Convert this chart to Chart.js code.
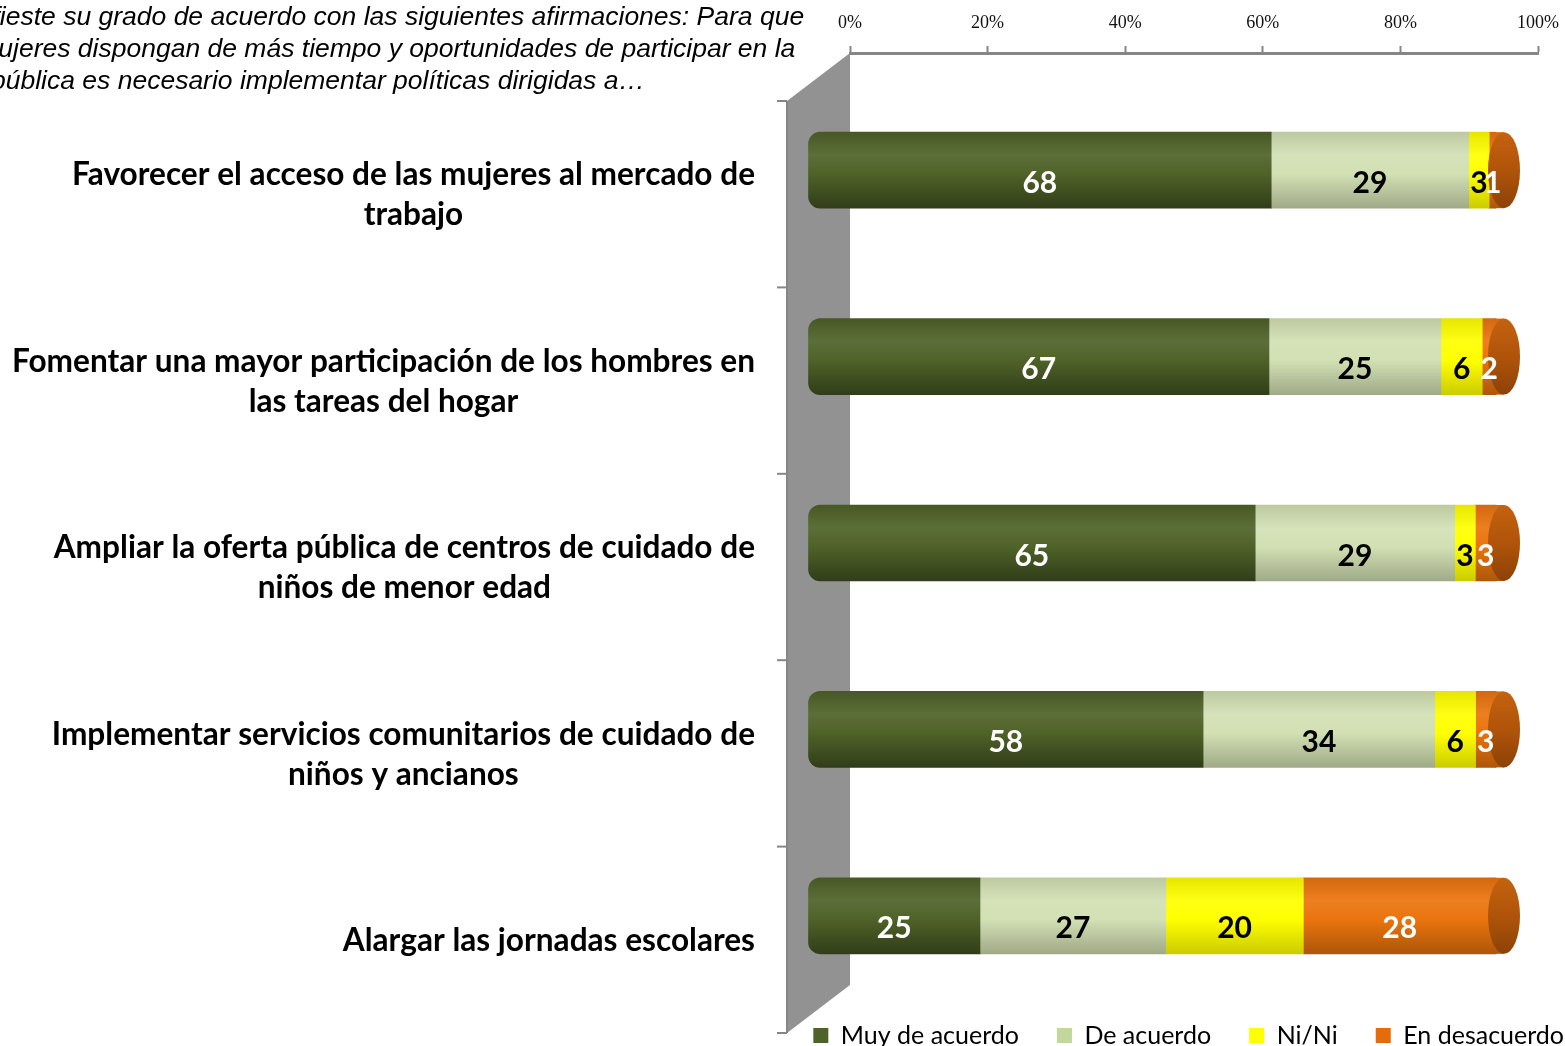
<!DOCTYPE html>
<html>
<head>
<meta charset="utf-8">
<script src="https://cdn.jsdelivr.net/npm/chart.js@4.4.1/dist/chart.umd.min.js"></script>
<style>
html,body{margin:0;padding:0;background:#fff;overflow:hidden;}
#wrap{position:relative;width:1565px;height:1046px;overflow:hidden;}
#title{position:absolute;left:-65px;top:0;font:italic 26.5px "Liberation Sans",Arial,sans-serif;line-height:32px;white-space:pre;color:#000;}
</style>
</head>
<body>
<div id="wrap">
<canvas id="chart" width="1565" height="1046"></canvas>
<div id="title">Manifieste su grado de acuerdo con las siguientes afirmaciones: Para que
las mujeres dispongan de más tiempo y oportunidades de participar en la
vida pública es necesario implementar políticas dirigidas a…</div>
</div>
<script>
const categories = [
    ["Favorecer el acceso de las mujeres al mercado de", "trabajo"],
    ["Fomentar una mayor participación de los hombres en", "las tareas del hogar"],
    ["Ampliar la oferta pública de centros de cuidado de", "niños de menor edad"],
    ["Implementar servicios comunitarios de cuidado de", "niños y ancianos"],
    ["Alargar las jornadas escolares"]
];
const seriesNames = ["Muy de acuerdo", "De acuerdo", "Ni/Ni", "En desacuerdo"];
const muyDeAcuerdo = [68, 67, 65, 58, 25];
const deAcuerdo = [29, 25, 29, 34, 27];
const niNi = [3, 6, 3, 6, 20];
const enDesacuerdo = [1, 2, 3, 3, 28];
const xTicks = [0, 20, 40, 60, 80, 100];

const seriesValues = [muyDeAcuerdo, deAcuerdo, niNi, enDesacuerdo];
const seriesColors = ["#4f6228", "#d2e0b3", "#ffff00", "#ea740e"];
const legendColors = ["#4f6228", "#c3d69b", "#ffff00", "#e46c0a"];
const bottomShade = [0.62, 0.76, 0.8, 0.74];
const labelColors = ["#fff", "#000", "#000", "#fff"];

// 3D look: bars sit in front of the back wall, category texts on the front edge
const BAR_DX = -42, BAR_DY = 24;
const FRONT_DX = -63, FRONT_DY = 48;
const BAR_H = 76;

const totals = categories.map((c, i) => seriesValues.reduce((s, arr) => s + arr[i], 0));

function shade(hex, f) {
    const n = parseInt(hex.slice(1), 16);
    let r = n >> 16, g = (n >> 8) & 255, b = n & 255;
    if (f <= 1) { r *= f; g *= f; b *= f; }
    else { const t = f - 1; r += (255 - r) * t; g += (255 - g) * t; b += (255 - b) * t; }
    return "rgb(" + Math.round(r) + "," + Math.round(g) + "," + Math.round(b) + ")";
}

function cylGradient(ctx, hex, yc, bottom) {
    const g = ctx.createLinearGradient(0, yc - BAR_H / 2, 0, yc + BAR_H / 2);
    g.addColorStop(0, shade(hex, 0.9));
    g.addColorStop(0.3, shade(hex, 1.08));
    g.addColorStop(0.55, hex);
    g.addColorStop(1, shade(hex, bottom));
    return g;
}

function barFill(k) {
    return function (c) {
        const base = seriesColors[k];
        if (c.type !== "data") return base;
        const y = c.chart.scales.y;
        if (!y) return base;
        const yc = y.getPixelForValue(c.dataIndex);
        if (!isFinite(yc)) return base;
        return cylGradient(c.chart.ctx, base, yc, bottomShade[k]);
    };
}

const datasets = seriesNames.map((name, k) => ({
    label: name,
    data: seriesValues[k].map((v, i) => v / totals[i] * 100),
    backgroundColor: barFill(k),
    borderWidth: 0,
    borderSkipped: k === 0 ? false : "start",
    borderRadius: k === 0 ? { topLeft: 12, bottomLeft: 12, topRight: 0, bottomRight: 0 } : 0,
    barThickness: BAR_H,
    clip: false
}));

const decor = {
    id: "decor",
    afterLayout(chart) {
        const l = chart.legend;
        l.left += 64; l.right += 64;
    },
    beforeDatasetsDraw(chart) {
        const ctx = chart.ctx, a = chart.chartArea;
        // side wall
        ctx.save();
        ctx.fillStyle = "#929292";
        ctx.beginPath();
        ctx.moveTo(a.left + FRONT_DX, a.top + FRONT_DY);
        ctx.lineTo(a.left, a.top);
        ctx.lineTo(a.left, a.bottom);
        ctx.lineTo(a.left + FRONT_DX, a.bottom + FRONT_DY);
        ctx.closePath();
        ctx.fill();
        ctx.strokeStyle = "#868686";
        ctx.lineWidth = 2;
        ctx.beginPath();
        ctx.moveTo(a.left + FRONT_DX, a.top + FRONT_DY);
        ctx.lineTo(a.left + FRONT_DX, a.bottom + FRONT_DY);
        ctx.stroke();
        const step = (a.bottom - a.top) / categories.length;
        for (let i = 0; i <= categories.length; i++) {
            const y = a.top + i * step + FRONT_DY;
            ctx.beginPath();
            ctx.moveTo(a.left + FRONT_DX - 10, y);
            ctx.lineTo(a.left + FRONT_DX, y);
            ctx.stroke();
        }
        ctx.restore();
        ctx.save();
        ctx.translate(BAR_DX, BAR_DY);
    },
    afterDatasetsDraw(chart) {
        const ctx = chart.ctx;
        // cylinder end caps
        const k = seriesNames.length - 1;
        chart.getDatasetMeta(k).data.forEach(bar => {
            ctx.fillStyle = cylGradient(ctx, seriesColors[k], bar.y, bottomShade[k]);
            ctx.fillRect(bar.x - 1, bar.y - BAR_H / 2, 9, BAR_H);
            const g = ctx.createLinearGradient(0, bar.y - BAR_H / 2, 0, bar.y + BAR_H / 2);
            g.addColorStop(0, "#c4620f");
            g.addColorStop(0.5, "#b0540a");
            g.addColorStop(1, "#8c4206");
            ctx.fillStyle = g;
            ctx.beginPath();
            ctx.ellipse(bar.x + 8, bar.y, 16, BAR_H / 2, 0, 0, Math.PI * 2);
            ctx.fill();
        });
        // value labels
        ctx.font = "bold 30px Lato";
        ctx.textAlign = "center";
        ctx.textBaseline = "middle";
        seriesNames.forEach((n, k) => {
            chart.getDatasetMeta(k).data.forEach((bar, i) => {
                ctx.fillStyle = labelColors[k];
                ctx.fillText(String(seriesValues[k][i]), (bar.x + bar.base) / 2, bar.y + 13);
            });
        });
        ctx.restore();
        // category labels on the front edge
        const ys = chart.scales.y, a = chart.chartArea;
        ctx.save();
        ctx.font = "bold 31.6px Lato";
        ctx.fillStyle = "#000";
        ctx.textAlign = "center";
        ctx.textBaseline = "middle";
        const right = a.left - 95;
        categories.forEach((lines, i) => {
            const w = Math.max(...lines.map(t => ctx.measureText(t).width));
            const yc = ys.getPixelForValue(i) + FRONT_DY + 1;
            lines.forEach((t, j) => {
                ctx.fillText(t, right - w / 2, yc + (j - (lines.length - 1) / 2) * 40);
            });
        });
        ctx.restore();
    }
};

new Chart(document.getElementById("chart"), {
    type: "bar",
    data: { labels: categories.map(c => c.join(" ")), datasets: datasets },
    options: {
        indexAxis: "y",
        responsive: false,
        animation: false,
        layout: { padding: { left: 0, right: 27, top: 0, bottom: -12 } },
        scales: {
            x: {
                position: "top",
                stacked: true,
                min: 0,
                max: 100,
                afterBuildTicks: s => { s.ticks = xTicks.map(v => ({ value: v })); },
                afterFit: s => { s.height = 53; s.paddingLeft = 0; s.paddingRight = 0; },
                ticks: {
                    callback: v => v + "%",
                    color: "#111",
                    padding: 12,
                    maxRotation: 0,
                    font: { family: "Liberation Serif", size: 18 }
                },
                grid: { drawOnChartArea: false, tickLength: 7, tickWidth: 2, tickColor: "#868686" },
                border: { color: "#868686", width: 3 }
            },
            y: {
                stacked: true,
                afterFit: s => { s.width = 850; },
                ticks: { display: false },
                grid: { display: false },
                border: { display: false }
            }
        },
        plugins: {
            legend: {
                position: "bottom",
                align: "end",
                labels: {
                    boxWidth: 15,
                    boxHeight: 15,
                    padding: 38,
                    color: "#000",
                    font: { family: "Lato", size: 25 },
                    generateLabels: chart => Chart.defaults.plugins.legend.labels.generateLabels(chart)
                        .map((l, k) => Object.assign(l, { fillStyle: legendColors[k], strokeStyle: legendColors[k], lineWidth: 0 }))
                }
            },
            tooltip: { enabled: false }
        }
    },
    plugins: [decor]
});
</script>
</body>
</html>
